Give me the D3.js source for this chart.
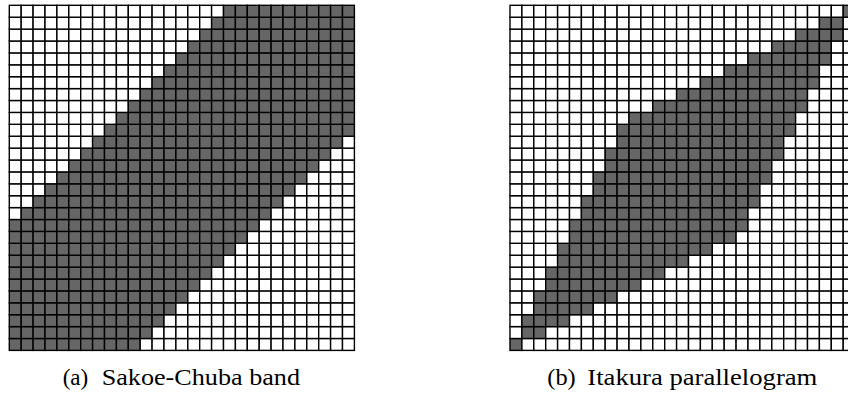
<!DOCTYPE html>
<html><head><meta charset="utf-8">
<script src="https://cdn.jsdelivr.net/npm/d3@7"></script>
<style>html,body{margin:0;padding:0;background:#fff;overflow:hidden}
text{font-family:"Liberation Serif","Times New Roman",Times,serif;}</style>
</head><body>
<script>
// ---- data (rows indexed from the bottom, i = 0..28) ----
const gridSize = 29;
const sakoeStart = [0,0,0,0,0,0,0,0,0,0,0,1,2,3,4,5,6,7,8,9,10,11,12,13,14,15,16,17,18];
const sakoeEnd   = [10,11,12,13,14,15,16,17,18,19,20,21,22,23,24,25,26,27,28,28,28,28,28,28,28,28,28,28,28];
const itakuraStart = [0,1,1,2,2,3,3,4,4,5,5,6,6,7,7,8,8,9,9,10,12,14,16,18,20,22,24,26,28];
const itakuraEnd   = [0,2,4,6,8,10,12,14,16,18,19,19,20,20,21,21,22,22,23,23,24,24,25,25,26,26,27,27,28];
const captionLabels = ["(a)", "(b)"];
const captionTitles = ["Sakoe-Chuba band", "Itakura parallelogram"];

const W = 848, H = 398;
const svg = d3.select("body").append("svg").attr("width", W).attr("height", H);

const cell = 11.9;
const panels = [
  {x0: 9.3, start: sakoeStart, end: sakoeEnd, lab: [62.7, 88.3], tit: [101.7, 300]},
  {x0: 510, start: itakuraStart, end: itakuraEnd, lab: [547.3, 575.7], tit: [587.3, 817.3]}
];
const y0 = 5.3;

panels.forEach((p, k) => {
  const idx = d3.range(gridSize);
  const x = d3.scaleBand().domain(idx).range([p.x0, p.x0 + cell * gridSize]);
  const y = d3.scaleBand().domain(idx).range([y0 + cell * gridSize, y0]);
  const cells = [];
  idx.forEach(i => idx.forEach(j => cells.push({i, j, on: j >= p.start[i] && j <= p.end[i]})));
  const g = svg.append("g");
  g.selectAll("rect").data(cells).join("rect")
    .attr("x", d => x(d.j)).attr("y", d => y(d.i))
    .attr("width", x.bandwidth()).attr("height", y.bandwidth())
    .attr("fill", d => d.on ? "#666666" : "#ffffff")
    .attr("stroke", "#000").attr("stroke-width", 1.4);

  svg.append("text").attr("x", p.lab[0]).attr("y", 385)
    .attr("font-size", 23.5)
    .attr("textLength", p.lab[1] - p.lab[0]).attr("lengthAdjust", "spacingAndGlyphs")
    .attr("fill", "#000").text(captionLabels[k]);
  svg.append("text").attr("x", p.tit[0]).attr("y", 385)
    .attr("font-size", 23.5)
    .attr("textLength", p.tit[1] - p.tit[0]).attr("lengthAdjust", "spacingAndGlyphs")
    .attr("fill", "#000").text(captionTitles[k]);
});
</script>
</body></html>
